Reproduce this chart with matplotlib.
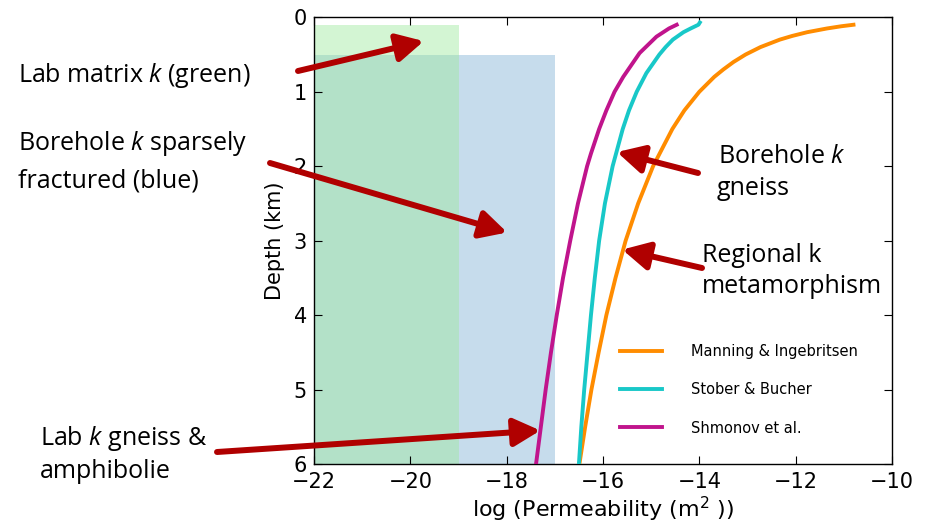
import matplotlib
matplotlib.use("Agg")
import matplotlib.pyplot as plt
from matplotlib.patches import Rectangle

# ---------------- data ----------------
manning_depth = [0.1, 0.12, 0.15, 0.2, 0.25, 0.3, 0.4, 0.5, 0.6, 0.7, 0.8, 1.0, 1.25, 1.5, 2.0, 2.5, 3.0, 3.5,
                 4.0, 4.5, 5.0, 5.5, 6.0]
manning_logk = [-10.8, -11.05, -11.35, -11.76, -12.07, -12.33, -12.73, -13.04, -13.29, -13.5, -13.69, -14.0,
                -14.31, -14.56, -14.96, -15.27, -15.53, -15.74, -15.93, -16.09, -16.24, -16.37, -16.49]

stober_depth = [0.07, 0.1, 0.15, 0.2, 0.3, 0.4, 0.5, 0.75, 1.0, 1.25, 1.5, 2.0, 2.5, 3.0, 3.5, 4.0, 4.5, 5.0,
                5.5, 6.0]
stober_logk = [-13.99, -14.02, -14.18, -14.33, -14.55, -14.70, -14.83, -15.10, -15.30, -15.46, -15.59, -15.80,
               -15.96, -16.08, -16.17, -16.25, -16.32, -16.39, -16.45, -16.50]

shmonov_depth = [0.1, 0.15, 0.26, 0.48, 0.8, 1.0, 1.25, 1.5, 1.83, 2.0, 2.5, 3.0, 3.5, 4.0, 4.5, 5.0, 5.5, 6.0]
shmonov_logk = [-14.47, -14.63, -14.89, -15.24, -15.58, -15.76, -15.93, -16.08, -16.25, -16.33, -16.52, -16.68,
                -16.83, -16.96, -17.08, -17.19, -17.29, -17.39]

series_labels = ["Manning & Ingebritsen", "Stober & Bucher", "Shmonov et al."]

# shaded ranges: (logk_min, logk_max, depth_top, depth_bottom)
blue_box = (-22, -17, 0.5, 6.0)
green_box = (-22, -19, 0.1, 6.0)

x_ticks = [-22, -20, -18, -16, -14, -12, -10]
y_ticks = [0, 1, 2, 3, 4, 5, 6]

# ---------------- figure ----------------
W, H = 932, 526
plt.rcParams["mathtext.fontset"] = "custom"
plt.rcParams["mathtext.rm"] = "Open Sans"
plt.rcParams["mathtext.it"] = "Open Sans:italic"

fig = plt.figure(figsize=(W / 100, H / 100), dpi=100)
ax = fig.add_axes([314 / W, 1 - 464 / H, (892 - 314) / W, (464 - 17.3) / H])

ax.add_patch(Rectangle((blue_box[0], blue_box[2]), blue_box[1] - blue_box[0], blue_box[3] - blue_box[2],
                       facecolor=(31 / 255, 119 / 255, 180 / 255), alpha=0.25, edgecolor="none", zorder=1))
ax.add_patch(Rectangle((green_box[0], green_box[2]), green_box[1] - green_box[0], green_box[3] - green_box[2],
                       facecolor=(158 / 255, 233 / 255, 158 / 255), alpha=0.45, edgecolor="none", zorder=1))

lw = 2.8
ax.plot(manning_logk, manning_depth, color="#ff8c00", lw=lw, label=series_labels[0], zorder=3)
ax.plot(stober_logk, stober_depth, color="#18c8c8", lw=lw, label=series_labels[1], zorder=3)
ax.plot(shmonov_logk, shmonov_depth, color="#c0148c", lw=lw, label=series_labels[2], zorder=3)

ax.set_xlim(-22, -10)
ax.set_ylim(6, 0)
ax.set_xticks(x_ticks)
ax.set_yticks(y_ticks)
ax.set_xticklabels([f"\u2212{abs(v)}" for v in x_ticks])
ax.tick_params(direction="in", top=True, right=True, length=5.5, width=0.8, labelsize=15)
ax.tick_params(axis="x", pad=6)
ax.tick_params(axis="y", pad=5)
ax.set_xlabel("log (Permeability (m$^2$ ))", fontsize=16, labelpad=2, family="DejaVu Sans",
              math_fontfamily="dejavusans")
ax.set_ylabel("Depth (km)", fontsize=15, labelpad=6)
for s in ax.spines.values():
    s.set_linewidth(1.0)

leg = ax.legend(loc="upper left", bbox_to_anchor=(0.529, 0.269), frameon=False, fontsize=10.5,
                handlelength=2.9, handletextpad=2.0, labelspacing=1.6, borderpad=0, borderaxespad=0)

# ---------------- annotations ----------------
def fx(px):
    return px / W

def fy(py):
    return 1 - py / H

tfont = dict(family="Open Sans", fontsize=18, color="black", va="baseline", ha="left")
texts = [
    ("Lab matrix $k$ (green)", 18, 82),
    ("Borehole $k$ sparsely", 18, 150),
    ("fractured (blue)", 18, 187),
    ("Borehole $k$", 718, 163),
    ("gneiss", 717, 195),
    ("Regional k", 702, 262),
    ("metamorphism", 702, 293),
    ("Lab $k$ gneiss &", 40, 445),
    ("amphibolie", 40, 478),
]
for t, x, y in texts:
    fig.text(fx(x), fy(y), t, **tfont)

arrow_color = "#b00000"
arrows = [
    ((-19.72, 0.32), (298, 71)),
    ((-17.99, 2.89), (270, 163)),
    ((-15.71, 1.81), (698, 173)),
    ((-15.60, 3.12), (702, 268)),
    ((-17.30, 5.55), (217, 452)),
]
for head, tail in arrows:
    ax.annotate("", xy=head, xycoords="data", xytext=(fx(tail[0]), fy(tail[1])),
                textcoords="figure fraction", annotation_clip=False,
                arrowprops=dict(arrowstyle="-|>,head_length=0.8,head_width=0.42", mutation_scale=20,
                                lw=4.3, color=arrow_color, shrinkA=0, shrinkB=0), zorder=5)

fig.savefig("out.png", dpi=100)
